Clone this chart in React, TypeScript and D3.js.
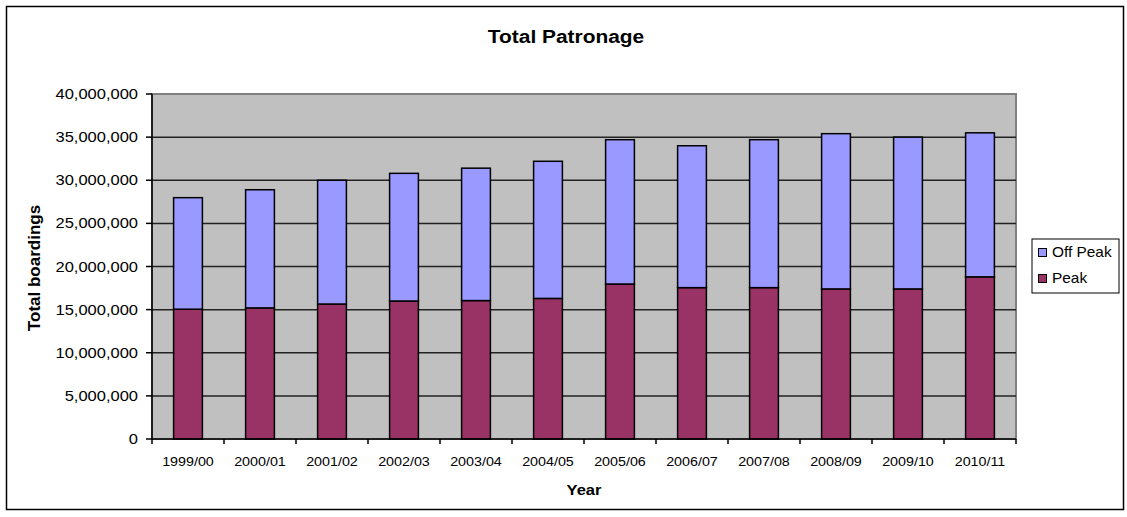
import React from 'react';
import * as d3 from 'd3';

const years = ['1999/00', '2000/01', '2001/02', '2002/03', '2003/04', '2004/05', '2005/06', '2006/07', '2007/08', '2008/09', '2009/10', '2010/11'];
const peak = [15050000, 15200000, 15650000, 16000000, 16050000, 16300000, 17970000, 17550000, 17550000, 17400000, 17400000, 18800000];
const totals = [27980000, 28900000, 30000000, 30800000, 31400000, 32200000, 34700000, 34000000, 34700000, 35400000, 35000000, 35500000];
const offPeak = totals.map((t, i) => t - peak[i]);
const yTicks = [0, 5000000, 10000000, 15000000, 20000000, 25000000, 30000000, 35000000, 40000000];

const font = '"Liberation Sans", Arial, sans-serif';

// text slightly wider than the font, like the Excel export
function T({ x, y, size, anchor = 'start', bold = false, children }: any) {
    return (
        <text transform={`translate(${x},${y}) scale(1.1,1)`} textAnchor={anchor} fontSize={size}
            fontWeight={bold ? 'bold' : 'normal'}>{children}</text>
    );
}

export default function App() {
    const left = 152, right = 1016, top = 94, bottom = 439;

    const x = d3.scaleBand<string>().domain(years).range([left, right]).paddingInner(0.6).paddingOuter(0.3);
    const xCat = d3.scaleBand<string>().domain(years).range([left, right]);
    const y = d3.scaleLinear().domain([0, 40000000]).range([bottom, top]);
    const fmt = d3.format(',');

    const stack = d3.stack<number>().keys(['peak', 'off'])
        .value((i, key) => (key === 'peak' ? peak[i] : offPeak[i]));
    const series = stack(years.map((_, i) => i));
    const colors = ['#993366', '#9999FF'];

    return (
        <svg width={1127} height={517} style={{ position: 'absolute', left: 0, top: 0, fontFamily: font }}>
            <rect x={6.5} y={6.5} width={1117} height={503} fill="#fff" stroke="#000" strokeWidth={1.5} />
            <T x={566} y={43} size={19} anchor="middle" bold>Total Patronage</T>

            <rect x={left} y={top} width={right - left} height={bottom - top} fill="#C0C0C0" stroke="#808080" strokeWidth={2} />
            {yTicks.map(t => (
                <g key={t}>
                    {t > 0 && t < 40000000 && (
                        <line x1={left} x2={right} y1={y(t)} y2={y(t)} stroke="#222" strokeWidth={1.5} />
                    )}
                    <line x1={left - 6} x2={left} y1={y(t)} y2={y(t)} stroke="#000" strokeWidth={1.5} />
                    <T x={138} y={y(t) + 5} size={15} anchor="end">{fmt(t)}</T>
                </g>
            ))}

            {series.map((s, si) => (
                <g key={si}>
                    {s.map((d, i) => (
                        <rect key={i} x={x(years[i])!} width={x.bandwidth()} y={y(d[1])} height={y(d[0]) - y(d[1])}
                            fill={colors[si]} stroke="#000" strokeWidth={1.5} />
                    ))}
                </g>
            ))}

            <line x1={left} x2={left} y1={top} y2={bottom} stroke="#000" strokeWidth={1.5} />
            <line x1={left} x2={right} y1={bottom} y2={bottom} stroke="#000" strokeWidth={1.5} />
            {years.map(yr => (
                <g key={yr}>
                    <line x1={xCat(yr)!} x2={xCat(yr)!} y1={bottom} y2={bottom + 5} stroke="#000" strokeWidth={1.5} />
                    <T x={xCat(yr)! + xCat.bandwidth() / 2} y={466} size={13} anchor="middle">{yr}</T>
                </g>
            ))}
            <line x1={right} x2={right} y1={bottom} y2={bottom + 5} stroke="#000" strokeWidth={1.5} />

            <T x={584} y={495} size={15} anchor="middle" bold>Year</T>
            <text transform={`translate(39.5, 268) rotate(-90)`} textAnchor="middle" fontSize={17} fontWeight="bold">Total boardings</text>

            <rect x={1032} y={239} width={87} height={54} fill="#fff" stroke="#000" strokeWidth={1} />
            <rect x={1038.5} y={248.5} width={8} height={8} fill="#9999FF" stroke="#000" strokeWidth={1} />
            <T x={1052} y={257} size={14}>Off Peak</T>
            <rect x={1038.5} y={274.5} width={8} height={8} fill="#993366" stroke="#000" strokeWidth={1} />
            <T x={1052} y={283} size={14}>Peak</T>
        </svg>
    );
}
